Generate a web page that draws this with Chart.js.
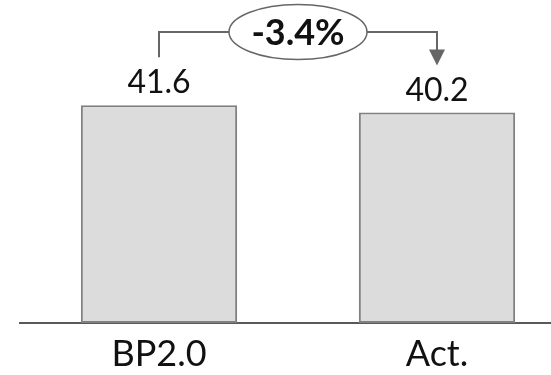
<!DOCTYPE html>
<html>
<head>
<meta charset="utf-8">
<script src="https://cdn.jsdelivr.net/npm/chart.js@4"></script>
<style>
  html, body { margin: 0; padding: 0; background: #fff; overflow: hidden; }
  #wrap { width: 551px; height: 375px; overflow: hidden; }
  canvas { display: block; }
</style>
</head>
<body>
<div id="wrap"><canvas id="c" width="576" height="375"></canvas></div>
<script>
// Chart data
const categories = ['BP2.0', 'Act.'];
const values = [41.6, 40.2];
const yRange = [0, 60];

const FONT = 'Lato, "Open Sans", sans-serif';

// Value labels above each bar
const valueLabels = {
  id: 'valueLabels',
  afterDatasetsDraw(chart) {
    const ctx = chart.ctx;
    const meta = chart.getDatasetMeta(0);
    ctx.save();
    ctx.font = '32px ' + FONT;
    ctx.fillStyle = '#111';
    ctx.textAlign = 'center';
    ctx.textBaseline = 'alphabetic';
    meta.data.forEach((bar, i) => {
      ctx.fillText(values[i].toFixed(1), bar.x, bar.y - 12);
    });
    ctx.restore();
  }
};

// Bracket arrow from the first bar to the second, with the change in an oval
const changeBracket = {
  id: 'changeBracket',
  afterDatasetsDraw(chart) {
    const ctx = chart.ctx;
    const meta = chart.getDatasetMeta(0);
    const a = meta.data[0], b = meta.data[1];
    const lineY = chart.chartArea.top + 23;
    const startY = a.y - 48;
    const tipY = b.y - 47;
    const midX = (a.x + b.x) / 2;
    const rx = 69, ry = 27.5;
    const pct = (values[1] - values[0]) / values[0] * 100;
    const text = (pct > 0 ? '+' : '') + pct.toFixed(1) + '%';

    ctx.save();
    ctx.strokeStyle = '#666';
    ctx.fillStyle = '#666';
    ctx.lineWidth = 2;
    ctx.beginPath();
    ctx.moveTo(a.x, startY);
    ctx.lineTo(a.x, lineY);
    ctx.lineTo(b.x, lineY);
    ctx.lineTo(b.x, tipY - 15);
    ctx.stroke();
    // arrow head
    ctx.beginPath();
    ctx.moveTo(b.x - 8, tipY - 16);
    ctx.lineTo(b.x + 8, tipY - 16);
    ctx.lineTo(b.x, tipY);
    ctx.closePath();
    ctx.fill();
    // oval
    ctx.beginPath();
    ctx.ellipse(midX, lineY, rx, ry, 0, 0, Math.PI * 2);
    ctx.fillStyle = '#fff';
    ctx.fill();
    ctx.lineWidth = 1.5;
    ctx.stroke();
    // change text
    ctx.fillStyle = '#111';
    ctx.font = 'bold 36px ' + FONT;
    ctx.textAlign = 'center';
    ctx.textBaseline = 'middle';
    ctx.fillText(text, midX, lineY + 1);
    ctx.restore();
  }
};

new Chart(document.getElementById('c'), {
  type: 'bar',
  data: {
    labels: categories,
    datasets: [{
      data: values,
      backgroundColor: '#dcdcdc',
      borderColor: '#808080',
      borderWidth: 2,
      borderSkipped: false,
      categoryPercentage: 0.562,
      barPercentage: 1
    }]
  },
  options: {
    responsive: false,
    animation: false,
    layout: { padding: { left: 20, right: 0, top: 9, bottom: 0 } },
    plugins: { legend: { display: false }, tooltip: { enabled: false } },
    scales: {
      x: {
        grid: { display: false, drawTicks: false },
        border: { display: true, color: '#595959', width: 2 },
        ticks: { color: '#111', font: { family: FONT, size: 36 }, padding: 10 },
        afterFit(scale) { scale.height = 52; }
      },
      y: {
        display: false,
        min: yRange[0],
        max: yRange[1]
      }
    }
  },
  plugins: [valueLabels, changeBracket]
});
</script>
</body>
</html>
